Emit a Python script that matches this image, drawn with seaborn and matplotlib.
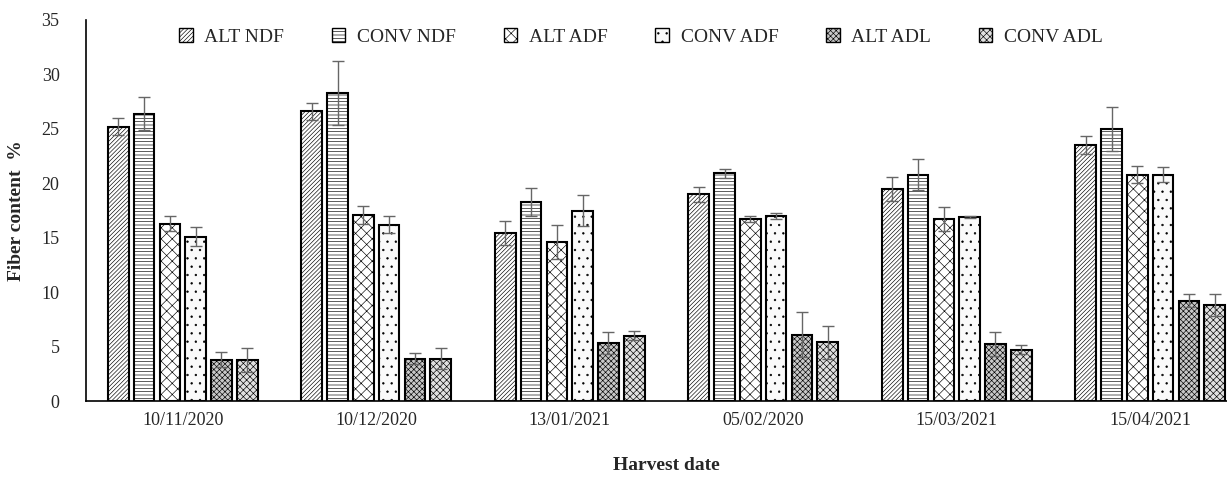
import numpy as np
import pandas as pd
import matplotlib
matplotlib.use("Agg")
import matplotlib.pyplot as plt
import seaborn as sns
from matplotlib.patches import Patch

dates = ["10/11/2020", "10/12/2020", "13/01/2021", "05/02/2020", "15/03/2021", "15/04/2021"]
series = ["ALT NDF", "CONV NDF", "ALT ADF", "CONV ADF", "ALT ADL", "CONV ADL"]

alt_ndf = [25.2, 26.6, 15.4, 19.0, 19.5, 23.5]
conv_ndf = [26.4, 28.3, 18.3, 20.9, 20.8, 25.0]
alt_adf = [16.3, 17.1, 14.6, 16.7, 16.7, 20.8]
conv_adf = [15.1, 16.2, 17.5, 17.0, 16.9, 20.8]
alt_adl = [3.8, 3.9, 5.3, 6.1, 5.2, 9.2]
conv_adl = [3.8, 3.9, 6.0, 5.4, 4.7, 8.8]

err_alt_ndf = [0.8, 0.8, 1.1, 0.7, 1.1, 0.8]
err_conv_ndf = [1.5, 2.9, 1.3, 0.4, 1.4, 2.0]
err_alt_adf = [0.7, 0.8, 1.6, 0.3, 1.1, 0.8]
err_conv_adf = [0.9, 0.8, 1.4, 0.3, 0.05, 0.7]
err_alt_adl = [0.7, 0.5, 1.0, 2.1, 1.1, 0.6]
err_conv_adl = [1.1, 1.0, 0.4, 1.5, 0.4, 1.0]

values = [alt_ndf, conv_ndf, alt_adf, conv_adf, alt_adl, conv_adl]
errors = [err_alt_ndf, err_conv_ndf, err_alt_adf, err_conv_adf, err_alt_adl, err_conv_adl]

rows = []
for s, vals in zip(series, values):
    for d, v in zip(dates, vals):
        rows.append({"date": d, "series": s, "value": v})
df = pd.DataFrame(rows)

sns.set_style("white")
plt.rcParams["font.family"] = ["Liberation Serif", "DejaVu Serif"]
plt.rcParams["hatch.linewidth"] = 0.45

hatches = ["////////", "-----", "xxx", "..", "xxxxxx", "xxxxx"]
faces = ["white", "white", "white", "#fafafa", "#c8c8c8", "#e0e0e0"]

fig = plt.figure(figsize=(12.27, 4.79), dpi=100)
W, H = 1227, 479
ax = fig.add_axes([86 / W, 1 - 401 / H, 1161 / W, 381 / H])

sns.barplot(data=df, x="date", y="value", hue="series", order=dates, hue_order=series,
            palette=["white"] * 6, edgecolor="black", linewidth=1.5, errorbar=None,
            width=0.8, gap=0.2, legend=False, ax=ax)

for cont, h, fc, errs in zip(ax.containers, hatches, faces, errors):
    xs, ys = [], []
    for bar in cont:
        bar.set_hatch(h)
        bar.set_facecolor(fc)
        xs.append(bar.get_x() + bar.get_width() / 2)
        ys.append(bar.get_height())
    ax.errorbar(xs, ys, yerr=errs, fmt="none", ecolor="#666666", elinewidth=1.0,
                capsize=4, capthick=1.0, zorder=5)

ax.set_xlim(-0.5, 5.5)
ax.set_ylim(0, 35)
ax.set_yticks(range(0, 36, 5))
ax.tick_params(axis="both", labelsize=13, length=0)
ax.tick_params(axis="x", pad=8)
ax.tick_params(axis="y", pad=19)
for sp in ["top", "right"]:
    ax.spines[sp].set_visible(False)
for sp in ["left", "bottom"]:
    ax.spines[sp].set_color("black")
    ax.spines[sp].set_linewidth(1.2)

ax.set_xlabel("Harvest date", fontsize=14, fontweight="bold", labelpad=20)
ax.set_ylabel("Fiber content  %", fontsize=14, fontweight="bold", labelpad=12)

handles = [Patch(facecolor=fc, edgecolor="black", hatch=h, linewidth=1.0)
           for h, fc in zip(hatches, faces)]
ax.legend(handles, series, ncol=6, frameon=False, loc="center",
          bbox_to_anchor=(0.478, 0.955), fontsize=14, handlelength=0.7,
          handleheight=0.7, handletextpad=0.6, columnspacing=2.45)

fig.savefig("out.png", dpi=100)
